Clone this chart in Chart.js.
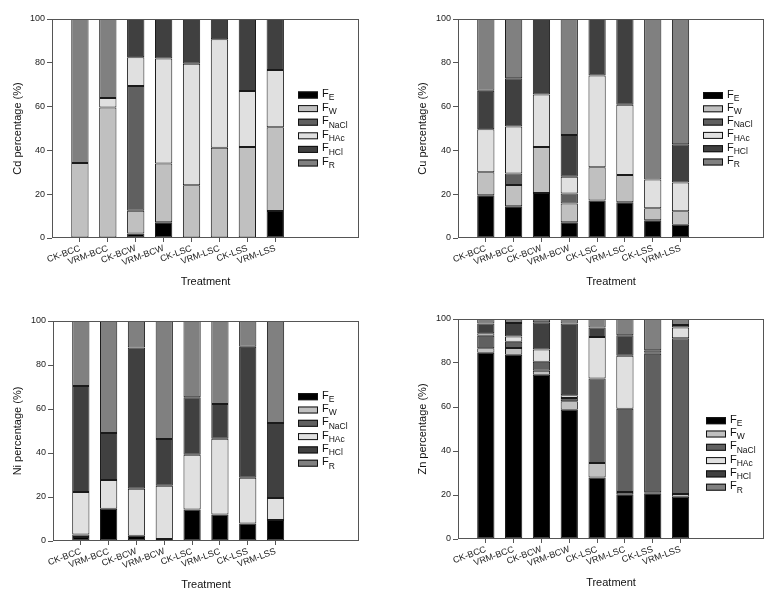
<!DOCTYPE html>
<html>
<head>
<meta charset="utf-8">
<script src="https://cdn.jsdelivr.net/npm/chart.js@4.4.1/dist/chart.umd.min.js"></script>
<style>
body{margin:0;background:#fff;}
#wrap{position:relative;width:779px;height:600px;overflow:hidden;}
#wrap canvas{position:absolute;}
</style>
</head>
<body>
<div id="wrap">
<canvas id="cdChart" width="390" height="300" style="left:0;top:0"></canvas>
<canvas id="cuChart" width="389" height="300" style="left:390px;top:0"></canvas>
<canvas id="niChart" width="390" height="300" style="left:0;top:300px"></canvas>
<canvas id="znChart" width="389" height="300" style="left:390px;top:300px"></canvas>
</div>
<script>
const treatments=["CK-BCC","VRM-BCC","CK-BCW","VRM-BCW","CK-LSC","VRM-LSC","CK-LSS","VRM-LSS"];
const fractions=["E","W","NaCl","HAc","HCl","R"];
const fractionColors=["#000000","#c0c0c0","#606060","#e0e0e0","#404040","#808080"];
const yTicks=[0,20,40,60,80,100];

// rows: FE, FW, FNaCl, FHAc, FHCl, FR (percent of each treatment)
const cdData=[
  [0,0,2.0,7.2,0,0,0,12.3],
  [34.3,59.6,10.5,26.8,24.1,41.2,41.6,38.3],
  [0,0,56.9,0,0,0,0,0],
  [0,4.3,13.1,48.0,55.5,49.5,25.5,26.1],
  [0,0,17.5,18.0,20.4,9.3,32.9,23.3],
  [65.7,36.1,0,0,0,0,0,0]
];
const cuData=[
  [19.5,14.5,20.6,7.2,17.1,16.3,8.1,6.1],
  [10.5,9.7,21.0,8.5,15.2,12.5,5.5,6.1],
  [0,5.2,0,4.6,0,0,0,0],
  [19.7,21.5,23.9,7.7,41.9,32.0,13.1,13.1],
  [17.5,22.1,34.5,19.0,25.8,39.2,0,17.5],
  [32.8,27.0,0,53.0,0,0,73.3,57.2]
];
const niData=[
  [1.8,14.7,2.4,0.9,14.3,12.0,7.9,9.6],
  [0,0,0,0,0,0,0,0],
  [1.1,0,0,0,0,0,0,0],
  [19.4,13.0,21.3,24.2,24.9,34.5,20.8,9.9],
  [48.2,21.4,64.3,21.3,26.1,15.8,59.6,34.1],
  [29.5,50.9,12.0,53.6,34.7,37.7,11.7,46.4]
];
const znData=[
  [84.7,83.8,74.7,58.8,27.9,20.3,20.8,19.2],
  [2.0,3.0,1.8,3.8,6.6,1.1,0.4,1.3],
  [5.7,2.9,4.1,1.5,38.4,37.8,63.0,70.7],
  [1.1,2.4,5.5,1.2,18.9,24.1,0.5,4.9],
  [4.5,6.1,12.4,32.7,4.3,9.3,1.1,1.2],
  [2.0,1.8,1.5,2.0,3.9,7.4,14.2,2.7]
];

const FONT="'Liberation Sans', Arial, sans-serif";

// box round the plot area
const framePlugin={
  id:"frame",
  afterDraw(c){
    const a=c.chartArea, ctx=c.ctx;
    ctx.save();
    ctx.strokeStyle="#555";
    ctx.lineWidth=1;
    ctx.strokeRect(Math.round(a.left)+0.5, Math.round(a.top)+0.5, Math.round(a.right-a.left)-1, Math.round(a.bottom-a.top)-1);
    ctx.restore();
  }
};

// legend with subscripts (F_E, F_W ...)
const subLegend={
  id:"subLegend",
  afterDraw(c, args, o){
    const ctx=c.ctx;
    ctx.save();
    c.data.datasets.forEach((ds, i)=>{
      const y=o.y+i*o.gap;
      ctx.fillStyle=ds.backgroundColor;
      ctx.fillRect(o.x, y-3.5, 20, 7);
      ctx.strokeStyle="#111";
      ctx.lineWidth=1;
      ctx.strokeRect(o.x+0.5, y-3, 19, 6);
      ctx.fillStyle="#111";
      ctx.textBaseline="middle";
      ctx.font="11px "+FONT;
      ctx.fillText("F", o.x+24, y-1);
      const w=ctx.measureText("F").width;
      ctx.font="8.5px "+FONT;
      ctx.fillText(ds.label, o.x+24+w, y+3);
    });
    ctx.restore();
  }
};

function buildPanel(id, metal, rows, cfg) {
  return new Chart(document.getElementById(id), {
    type:"bar",
    data:{
      datasets:fractions.map((f, k)=>({
        label:f,
        data:rows[k].map((v, i)=>({x:i+1, y:v||null})),
        backgroundColor:fractionColors[k],
        borderColor:"#1a1a1a",
        borderWidth:1,
        borderSkipped:false,
        barPercentage:0.62,
        categoryPercentage:1
      }))
    },
    options:{
      responsive:false,
      animation:false,
      layout:{padding:{left:0, top:cfg.top, right:cfg.right, bottom:0}},
      plugins:{
        legend:{display:false},
        tooltip:{enabled:false},
        subLegend:cfg.legend
      },
      scales:{
        x:{
          type:"linear", min:0, max:11, stacked:true, offset:false,
          afterBuildTicks:s=>{ s.ticks=treatments.map((t, i)=>({value:i+1})); },
          afterFit:s=>{ s.height=cfg.bottom; },
          ticks:{autoSkip:false, minRotation:20, maxRotation:20, padding:1, color:"#222",
            font:{family:FONT, size:9}, callback:v=>treatments[v-1]},
          grid:{offset:false, drawOnChartArea:false, tickLength:4, color:"#555"},
          border:{display:false},
          title:{display:true, text:"Treatment", color:"#111", font:{family:FONT, size:11},
            padding:{top:0, bottom:cfg.xTitlePad}}
        },
        y:{
          min:0, max:100, stacked:true,
          afterBuildTicks:s=>{ s.ticks=yTicks.map(v=>({value:v})); },
          afterFit:s=>{ s.width=cfg.left; },
          ticks:{padding:2, color:"#222", font:{family:FONT, size:9}},
          grid:{drawOnChartArea:false, tickLength:5, color:"#555"},
          border:{display:false},
          title:{display:true, text:metal+" percentage (%)", color:"#111", font:{family:FONT, size:11},
            padding:{top:cfg.yTitlePad, bottom:0}}
        }
      }
    },
    plugins:[framePlugin, subLegend]
  });
}

buildPanel("cdChart", "Cd", cdData, {left:52, top:19, right:31, bottom:62, xTitlePad:11.4, yTitlePad:11.7, legend:{x:298, y:95, gap:13.6}});
buildPanel("cuChart", "Cu", cuData, {left:68, top:19, right:15, bottom:62, xTitlePad:11.4, yTitlePad:26.7, legend:{x:313, y:95.5, gap:13.3}});
buildPanel("niChart", "Ni", niData, {left:53, top:21, right:31, bottom:59, xTitlePad:8.4, yTitlePad:11.7, legend:{x:298, y:96.7, gap:13.3}});
buildPanel("znChart", "Zn", znData, {left:68, top:19, right:15, bottom:61, xTitlePad:10, yTitlePad:26.7, legend:{x:316, y:120.7, gap:13.3}});
</script>
</body>
</html>
